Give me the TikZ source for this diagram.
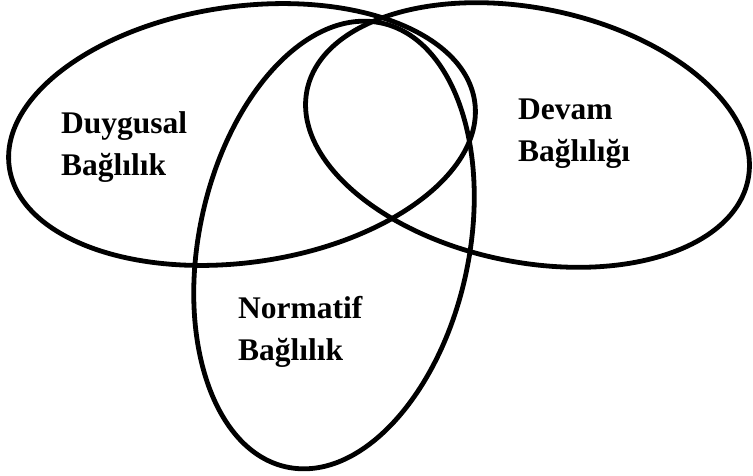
\documentclass[tikz,border=0pt]{standalone}
\usepackage{fontspec}
\setmainfont{Liberation Serif}
\usepackage{tikz}
\usetikzlibrary{positioning}

\begin{document}
\begin{tikzpicture}[x=1pt, y=1pt,
  every node/.style={font=\fontsize{31.5}{42}\selectfont\bfseries},
  ring/.style={draw=black, line width=4.8pt},
  lbl/.style={anchor=north west, inner sep=0pt, align=left}
]
\useasboundingbox (0,0) rectangle (753,-475);
% the three sets
\draw[ring, rotate around={8:(242,-134.5)}]    (242,-134.5) ellipse [x radius=235, y radius=128];
\draw[ring, rotate around={-11.5:(527.5,-135)}] (527.5,-135) ellipse [x radius=225, y radius=127];
\draw[ring, rotate around={-12:(334,-245)}]    (334,-245) ellipse [x radius=135, y radius=227];
% labels
\node[lbl] (duygusal) at (61,-111)  {Duygusal\\Bağlılık};
\node[lbl] (devam)    at (518,-99)  {Devam\\Bağlılığı};
\node[lbl] (normatif) at (238,-296) {Normatif\\Bağlılık};
\end{tikzpicture}
\end{document}
